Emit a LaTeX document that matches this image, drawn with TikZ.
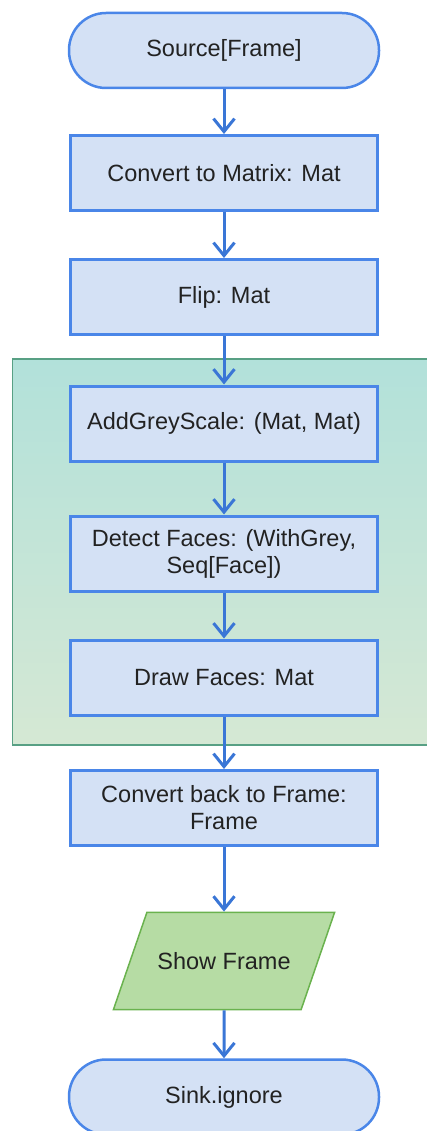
\documentclass[tikz,border=0pt]{standalone}
\usepackage{fontspec}
\setmainfont{Liberation Sans}
\usepackage{tikz}
\usetikzlibrary{arrows.meta,shapes.geometric}

\definecolor{BoxFill}{RGB}{212,225,245}
\definecolor{BoxLine}{RGB}{74,134,232}
\definecolor{FlowBlue}{RGB}{58,118,214}
\definecolor{TextGrey}{RGB}{34,34,34}
\definecolor{GroupTop}{RGB}{178,225,218}
\definecolor{GroupBottom}{RGB}{213,232,212}
\definecolor{GroupLine}{RGB}{88,160,132}
\definecolor{IOFill}{RGB}{182,220,164}
\definecolor{IOLine}{RGB}{106,178,78}

\begin{document}
\begin{tikzpicture}[x=1pt, y=-1pt,
  >={Straight Barb[length=13pt, width=21pt]},
  every node/.style={font=\fontsize{23.5}{27}\selectfont, text=TextGrey, align=center},
  procbox/.style={draw=BoxLine, fill=BoxFill, line width=3pt, minimum width=307pt, minimum height=75pt, inner sep=0pt},
  termbox/.style={procbox, rounded corners=37pt, line width=2.5pt, minimum width=310pt},
  iobox/.style={trapezium, trapezium left angle=71, trapezium right angle=109,
    draw=IOLine, fill=IOFill, line width=1.5pt, inner xsep=10.5pt, inner ysep=40pt},
  flow/.style={->, draw=FlowBlue, line width=3pt}]
  \useasboundingbox (0,0) rectangle (426,1131);

  % Grouped stages
  \shade[top color=GroupTop, bottom color=GroupBottom, draw=GroupLine, line width=1.2pt] (12.5,359) rectangle (440,745);

  % Stages
  \node[termbox] (source) at (224,50.5) {Source[Frame]};
  \node[procbox] (tomat) at (224,173) {Convert to Matrix: Mat};
  \node[procbox] (flip) at (224,297) {Flip: Mat};
  \node[procbox] (grey) at (224,423.5) {AddGreyScale: (Mat, Mat)};
  \node[procbox] (detect) at (224,553.5) {Detect Faces: (WithGrey,\\Seq[Face])};
  \node[procbox] (drawfaces) at (224,677.5) {Draw Faces: Mat};
  \node[procbox] (toframe) at (224,808) {Convert back to Frame:\\Frame};
  \node[iobox] (show) at (224,961) {Show Frame};
  \node[termbox] (sink) at (224,1097) {Sink.ignore};

  % Flow
  \draw[flow] (source) -- (tomat);
  \draw[flow] (tomat) -- (flip);
  \draw[flow] (flip) -- (grey);
  \draw[flow] (grey) -- (detect);
  \draw[flow] (detect) -- (drawfaces);
  \draw[flow] (drawfaces) -- (toframe);
  \draw[flow] (toframe) -- (show);
  \draw[flow] (show) -- (sink);
\end{tikzpicture}
\end{document}
